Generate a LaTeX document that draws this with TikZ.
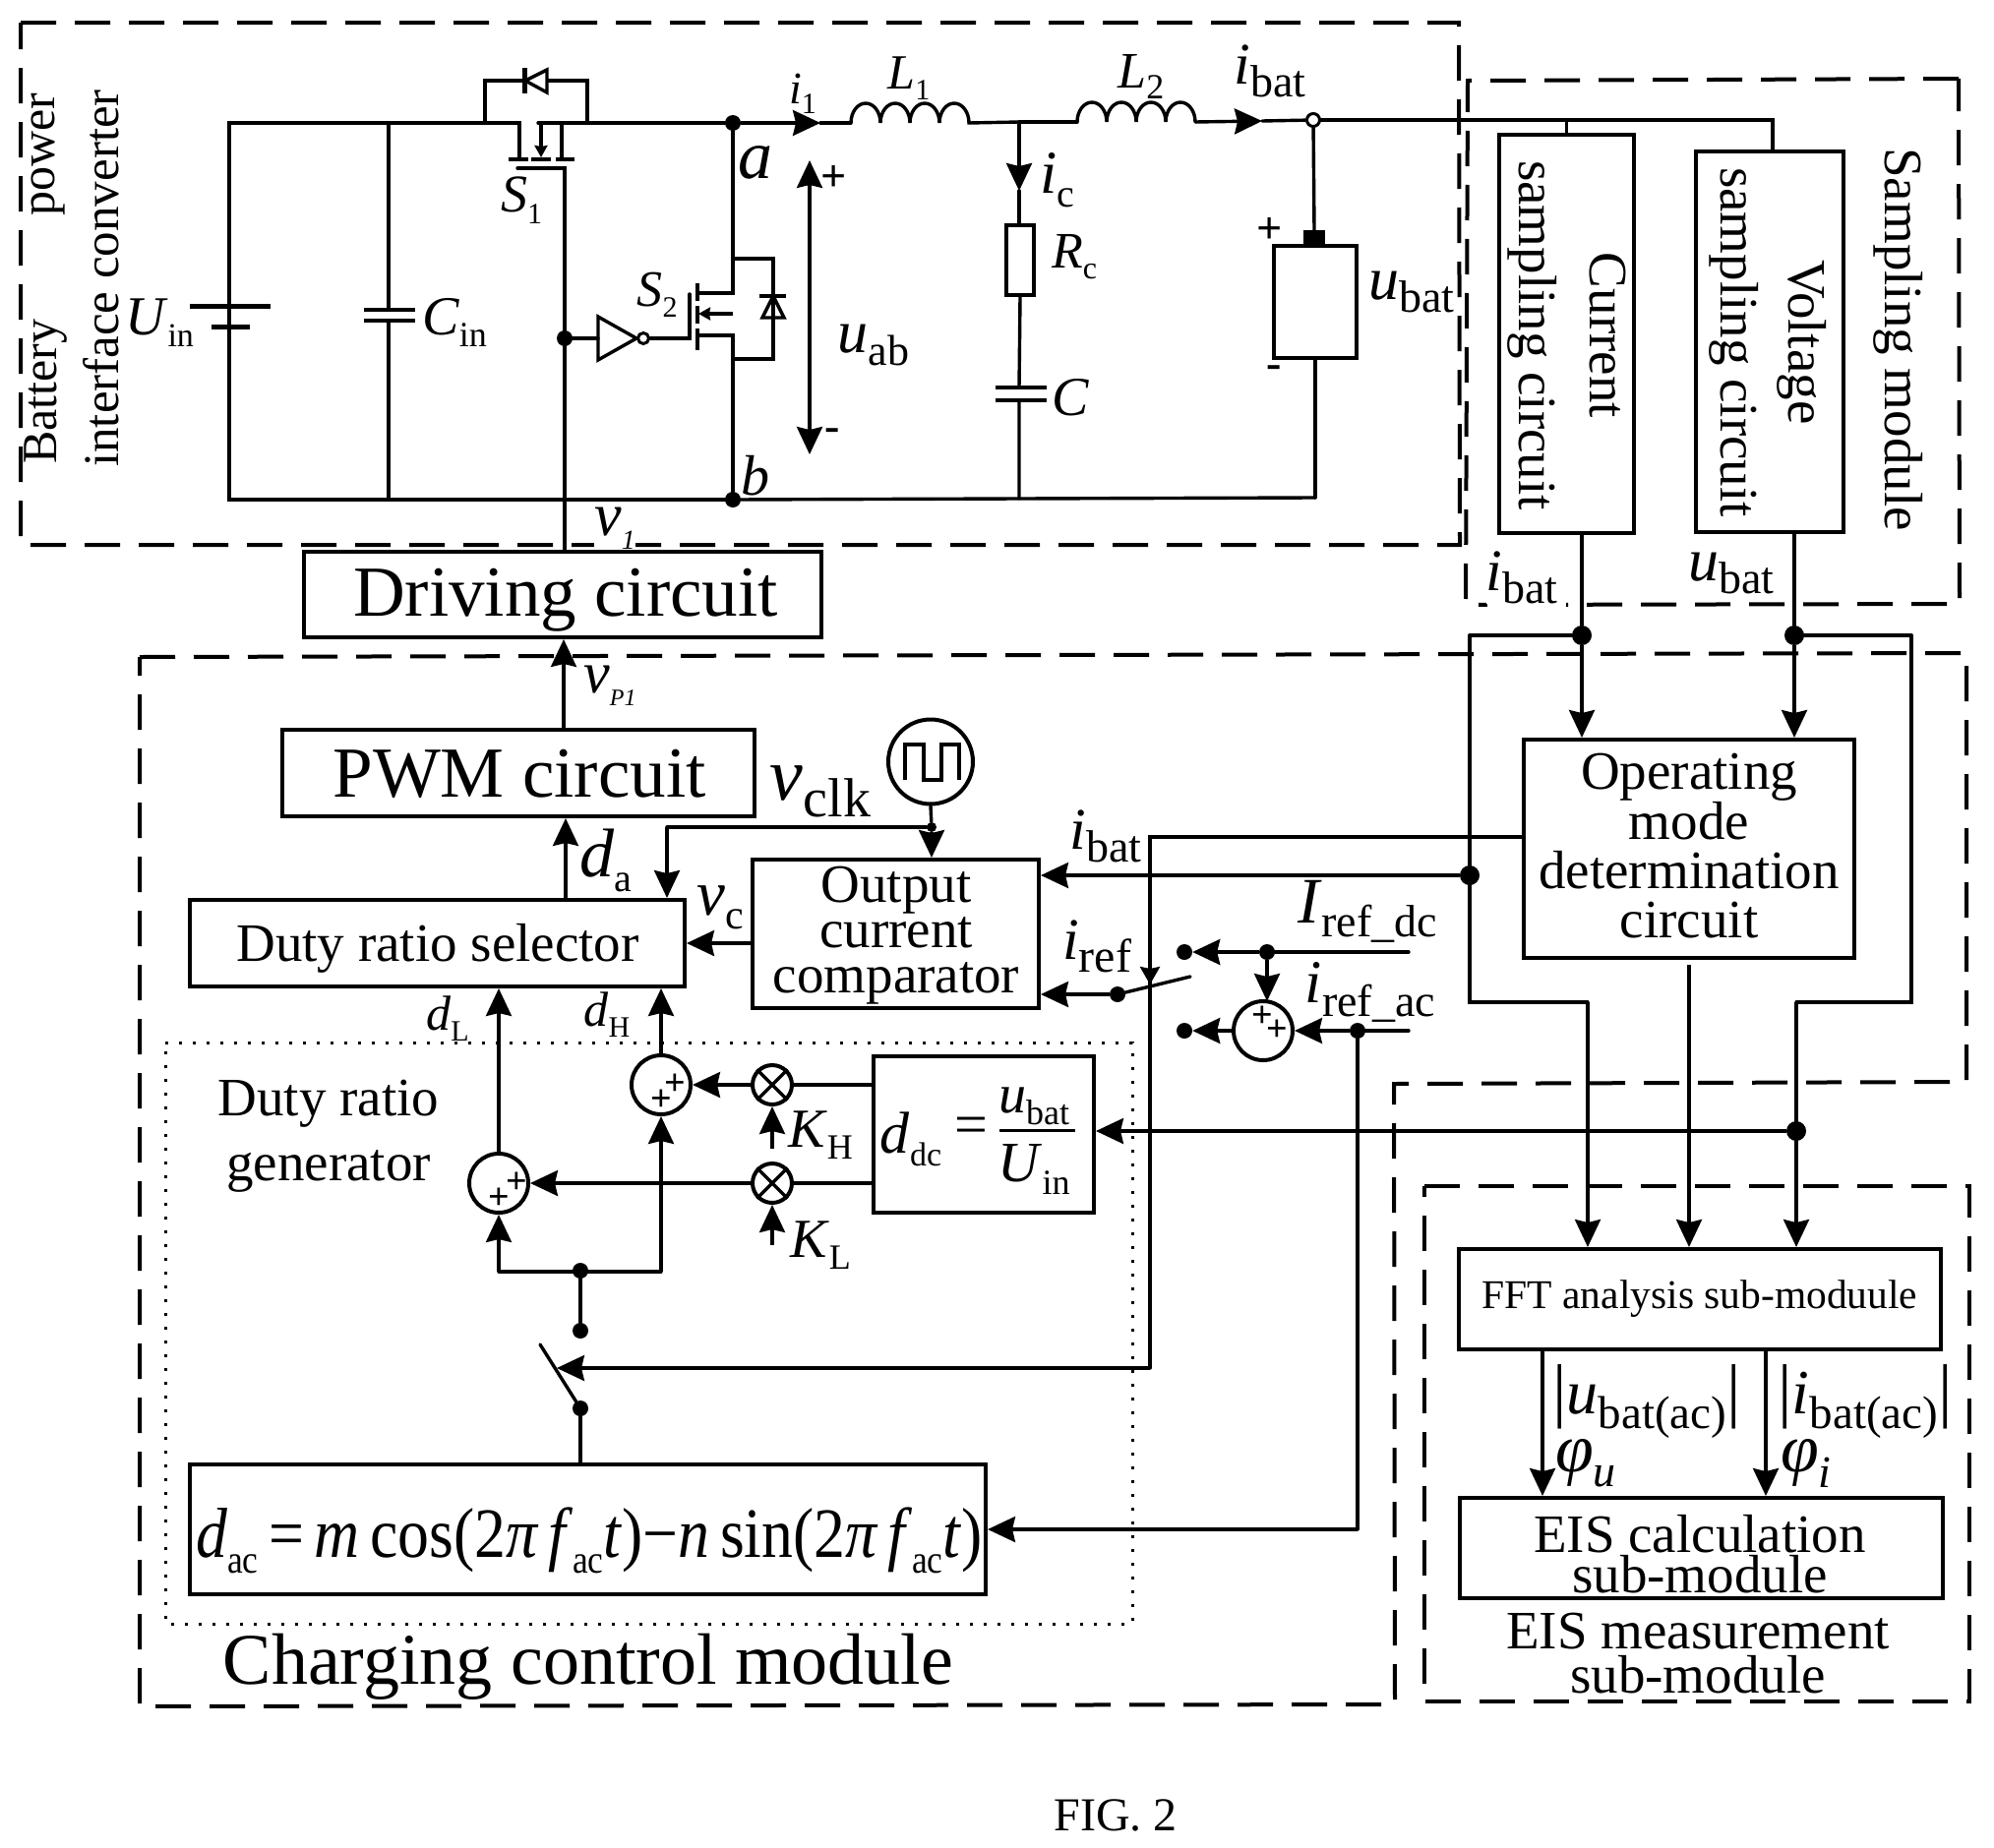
\documentclass[tikz,border=0pt]{standalone}
\usepackage{graphicx}
\usepackage{fontspec}
\setmainfont{Liberation Serif}
\usetikzlibrary{arrows.meta,shapes.geometric}
\newcommand\IS[4]{\fontsize{#1}{#1}\selectfont\textit{#3}\raisebox{-.22em}{\fontsize{#2}{#2}\selectfont #4}}
\newcommand\ISI[4]{\fontsize{#1}{#1}\selectfont\textit{#3}\raisebox{-.22em}{\fontsize{#2}{#2}\selectfont\textit{#4}}}
\newcommand\IT[2]{\fontsize{#1}{#1}\selectfont\textit{#2}}
\newcommand\coil{arc[start angle=180,end angle=0,x radius=15pt,y radius=20pt]}
\tikzset{
  wire/.style={line width=3.4pt,line cap=round,line join=miter},
  arr/.style={wire,line cap=butt,-{Stealth[length=28pt,width=26pt,inset=3pt]}},
  arrs/.style={wire,line cap=butt,{Stealth[length=28pt,width=26pt,inset=3pt]}-{Stealth[length=28pt,width=26pt,inset=3pt]}},
  tinyarr/.style={wire,line cap=butt,-{Stealth[length=12pt,width=13pt,inset=1pt]}},
  midarr/.style={wire,line cap=butt,-{Stealth[length=18pt,width=20pt,inset=2pt]}},
  modbox/.style={line width=4pt,dash pattern=on 36pt off 19pt},
  dotbox/.style={line width=3pt,dash pattern=on 3pt off 11pt},
  box/.style={draw,line width=4pt,inner sep=0pt,rectangle,align=center,minimum width=#1},
  dot/.style={circle,fill=black,draw=none,minimum size=16pt,inner sep=0pt},
  bigdot/.style={circle,fill=black,draw=none,minimum size=20pt,inner sep=0pt},
  summer/.style={circle,draw,line width=4pt,minimum size=60pt,inner sep=0pt},
  mult/.style={circle,draw,line width=4pt,minimum size=40pt,inner sep=0pt},
  lbl/.style={inner sep=0pt,anchor=center},
  tx/.style={inner sep=0pt,anchor=center,align=center,font=\fontsize{55}{#1}\selectfont},
  tx/.default=50,
  bigtx/.style={inner sep=0pt,anchor=center,font=\fontsize{73}{73}\selectfont},
  pl/.style={inner sep=0pt,anchor=center,font=\fontsize{38}{38}\selectfont\bfseries},
  sgn/.style={inner sep=0pt,anchor=center,font=\fontsize{46}{46}\selectfont\bfseries}
}
\begin{document}
\begin{tikzpicture}[x=1pt,y=-1pt]
\useasboundingbox (0,0) rectangle (2027,1879);
\fill[white] (0,0) rectangle (2027,1879);
% module frames
\draw[modbox] (21,23) -- (1483,23) -- (1484,554) -- (21,554) -- cycle;
\draw[modbox] (1991,80) -- (1492,82) -- (1490,615) -- (1992,614) -- cycle;
\fill[white] (1512,608) rectangle (1592,622);
\draw[modbox] (142,668) -- (1999,664) -- (1999,1100) -- (1417,1102) -- (1418,1733) -- (142,1735) -- cycle;
\draw[modbox] (1448,1206) -- (2002,1206) -- (2002,1730) -- (1448,1730) -- cycle;
\draw[dotbox] (168,1060) -- (1151,1060) -- (1151,1651) -- (168,1651) -- cycle;

% boxes
\node[box=526pt,minimum height=87pt] (drive) at (572,604.5) {};
\node[bigtx] (drivet) at (575,610) {Driving circuit};
\node[box=480pt,minimum height=88pt] (pwm) at (527,786) {};
\node[bigtx] (pwmt) at (528,787) {PWM circuit};
\node[box=503pt,minimum height=88pt] (sel) at (444.5,959) {};
\node[tx] (selt) at (445,964) {Duty ratio selector};
\node[box=291pt,minimum height=151pt] (comp) at (910.5,949.5) {};
\node[tx=46] (compt) at (911,951) {Output\\current\\comparator};
\node[box=224pt,minimum height=159pt] (ddc) at (1000,1153.5) {};
\node[box=809pt,minimum height=132pt] (fac) at (597.5,1555) {};
\node[box=336pt,minimum height=222pt] (mode) at (1717,863) {};
\node[tx] (modet) at (1717,860) {Operating\\mode\\determination\\circuit};
\node[box=137pt,minimum height=405pt] (cur) at (1592.5,339.5) {};
\node[tx=72,rotate=-90] (curt) at (1593,341) {Current\\sampling circuit};
\node[box=150pt,minimum height=387pt] (vol) at (1799,347.5) {};
\node[tx=69,rotate=-90] (volt) at (1797,348) {Voltage\\sampling circuit};
\node[box=490pt,minimum height=102pt] (fft) at (1728,1321) {};
\node[inner sep=0pt,anchor=center,font=\fontsize{41.5}{41.5}\selectfont] (fftt) at (1728,1321) {FFT analysis sub-moduule};
\node[box=491pt,minimum height=102pt] (eis) at (1729.5,1574) {};
\node[tx=41] (eist) at (1728,1580) {EIS calculation\\sub-module};
\node[tx=45] (eism) at (1726,1681) {EIS measurement\\sub-module};

% vertical and free texts
\node[lbl,rotate=90,font=\fontsize{50}{50}\selectfont] (t1) at (47,398) {Battery};
\node[lbl,rotate=90,font=\fontsize{50}{50}\selectfont] (t2) at (49,157) {power};
\node[lbl,rotate=90,font=\fontsize{51}{51}\selectfont] (t3) at (103,283) {interface converter};
\node[lbl,rotate=-90,font=\fontsize{55}{55}\selectfont] (t4) at (1930,345) {Sampling module};
\node[tx=66] (t5) at (334,1155) {Duty ratio\\generator};
\node[lbl,font=\fontsize{74}{74}\selectfont] (t6) at (598,1695) {Charging control module};
\node[lbl,font=\fontsize{48}{48}\selectfont] (t7) at (1134,1846) {FIG. 2};

% power stage: named points
\coordinate (TL) at (233,125);
\coordinate (BL) at (233,508);
\node[dot] (na) at (745,125) {};
\node[dot] (nb) at (745,508) {};
\coordinate (CT) at (395,125);
\coordinate (CB) at (395,508);
\coordinate (i1tip) at (834,125);
\coordinate (L1a) at (865,125);
\coordinate (L1b) at (986,125);
\coordinate (RT) at (1036,124);
\coordinate (RB) at (1036,507);
\coordinate (L2a) at (1095,124);
\coordinate (L2b) at (1215,124);
\coordinate (i2tip) at (1283,123);
\node[circle,draw,line width=3pt,minimum size=13pt,inner sep=0pt] (nbat) at (1335,122) {};
\coordinate (VT) at (1802,122);
\coordinate (BB) at (1337,506);

% input battery and capacitor
\draw[wire] (nb) -- (BL) -- (TL |- 0,311) (TL |- 0,332) -- (BL);
\draw[wire] (TL |- 0,311) -- (TL) -- (528,125) -- (528,161);
\draw[line width=5pt] (193,311) -- (275,311);
\draw[line width=5pt] (215,332) -- (254,332);
\draw[wire] (CT) -- (CT |- 0,315) (CT |- 0,326) -- (CB);
\draw[line width=4.5pt] (370,315) -- (422,315) (370,326) -- (422,326);
% S1
\draw[wire] (547,125) -- (na);
\draw[tinyarr] (550,125) -- (550,160);
\draw[wire] (571,125) -- (571,161);
\draw[line width=4pt] (517,162) -- (537,162) (540,162) -- (560,162) (565,162) -- (584,162);
\draw[wire] (526,171) -- (574,171) -- (574,561);
\draw[wire] (493,125) -- (493,82) -- (597,82) -- (597,125);
\draw[wire] (493,82) -- (533,82) (556,82) -- (597,82);
\draw[wire,fill=black!0] (556,71) -- (534,82) -- (556,94) -- cycle;
\draw[line width=5pt] (533,69) -- (533,95);
\node[lbl] (lS1) at (530,204) {\IS{54}{30}{S}{1}};
% inverter and S2
\node[dot] (ngate) at (574,344) {};
\draw[wire] (ngate) -- (608,344);
\draw[wire] (608,322) -- (647,344) -- (608,366) -- cycle;
\node[circle,draw,line width=3pt,minimum size=11pt,inner sep=0pt] (bub) at (654,344) {};
\draw[wire] (bub) -- (701,344) -- (701,299);
\draw[line width=3.6pt] (709,288) -- (709,306) (709,311) -- (709,329) (709,334) -- (709,356);
\draw[wire] (na) -- (745,298) -- (709,298);
\draw[tinyarr] (745,319) -- (710,319);
\draw[wire] (nb) -- (745,341) -- (709,341);
\draw[wire] (745,263) -- (786,263) -- (786,365) -- (745,365);
\draw[wire] (775,323) -- (786,301) -- (797,323) -- cycle;
\draw[line width=4.5pt] (772,301) -- (799,301);
\node[lbl] (lS2) at (668,300) {\IS{52}{30}{S}{2}};
% main rail
\draw[arr] (na) -- (i1tip);
\draw[wire] (i1tip) -- (L1a);
\draw[wire] (L1a) \coil \coil \coil \coil -- (RT);
\draw[wire] (RT) -- (L2a);
\draw[wire] (L2a) \coil \coil \coil \coil;
\draw[arr] (L2b) -- (i2tip);
\draw[wire] (i2tip) -- (nbat);
\draw[wire] (nbat) -- (VT) -- (vol.north -| VT);
\draw[wire] (cur.north) -- (cur.north |- VT);
\draw[wire] (nb) -- (RB) -- (BB);
% RC branch
\draw[arr] (RT) -- (1036,194);
\draw[wire] (1036,194) -- (1036,229);
\node[draw,line width=4pt,minimum width=28pt,minimum height=71pt,inner sep=0pt] (Rc) at (1037,264.5) {};
\draw[wire] (Rc.south) -- (1036,394) (1036,407) -- (RB);
\draw[line width=4.5pt] (1012,394) -- (1064,394) (1012,407) -- (1064,407);
% cell
\node[draw,line width=4pt,minimum width=84pt,minimum height=114pt,inner sep=0pt] (cell) at (1337,307) {};
\fill (1325,234) rectangle (1347,252);
\draw[wire] (nbat) -- (1336,234);
\draw[wire] (cell.south) -- (BB);
% uab
\coordinate (uabT) at (823,163);
\coordinate (uabB) at (823,462);
\draw[arrs] (uabT) -- (uabB);
% labels power stage
\node[lbl] (lUin) at (162,328) {\IS{56}{34}{U}{in}};
\node[lbl] (lCin) at (462,328) {\IS{56}{36}{C}{in}};
\node[lbl] (la) at (768,165) {\IT{70}{a}};
\node[lbl] (lb) at (768,484) {\IT{58}{b}};
\node[lbl] (li1) at (816,95) {\IS{46}{30}{i}{1}};
\node[lbl] (lL1) at (924,80) {\IS{50}{30}{L}{1}};
\node[lbl] (lL2) at (1160,78) {\IS{52}{36}{L}{2}};
\node[lbl] (lib) at (1291,72) {\IS{60}{46}{i}{bat}};
\node[lbl] (lic) at (1075,183) {\IS{62}{40}{i}{c}};
\node[lbl] (lRc) at (1092,261) {\IS{52}{32}{R}{c}};
\node[lbl] (lC) at (1088,404) {\IT{56}{C}};
\node[lbl] (lub) at (1435,297) {\IS{62}{46}{u}{bat}};
\node[lbl] (luab) at (888,351) {\IS{62}{44}{u}{ab}};
\node[sgn] (pa) at (848,182) {+};
\node[sgn] (ma) at (846,442) {-};
\node[sgn] (pb) at (1291,235) {+};
\node[sgn] (mb) at (1295,378) {-};
\node[lbl,fill=white] (lv1) at (625,537) {\ISI{62}{28}{v}{1}};
\node[lbl,fill=white] (lib2) at (1547,587) {\IS{60}{46}{i}{bat}};
\node[lbl,fill=white] (lub2) at (1760,583) {\IS{62}{46}{u}{bat}};

% sampling outputs
\node[bigdot] (ni) at (1608,646) {};
\node[bigdot] (nu) at (1824,646) {};
\draw[wire] (1608,542) -- (ni);
\draw[wire] (1824,541) -- (nu);
\coordinate (WL) at (1494,646);
\coordinate (WR) at (1943,646);
\draw[wire] (ni) -- (WL);
\draw[wire] (nu) -- (WR);
\draw[arr] (ni) -- (ni |- mode.north);
\draw[arr] (nu) -- (nu |- mode.north);
\coordinate (W1) at (1614,1019);
\coordinate (W2) at (1826,1019);
\draw[wire] (WL) -- (1494,1019) -- (W1);
\draw[arr] (W1) -- (W1 |- fft.north);
\draw[wire] (WR) -- (1943,1019) -- (W2);
\draw[arr] (W2) -- (W2 |- fft.north);
\coordinate (Mb) at (1717,981);
\draw[arr] (Mb) -- (Mb |- fft.north);
\node[bigdot] (nib) at (1494,890) {};
\node[bigdot] (nub) at (1826,1150) {};
\draw[arr] (nib) -- (comp.east |- nib);
\draw[arr] (nub) -- (ddc.east |- nub);
% mode line and switches
\coordinate (mL) at (1169,851);
\coordinate (swA) at (566,1391);
\draw[wire] (mode.west |- mL) -- (mL) -- (1169,1391);
\draw[arr] (1169,1391) -- (swA);
\draw[midarr] (1169,975) -- (1169,1001);
\node[dot] (s0) at (1136,1011) {};
\coordinate (s1) at (1210,993);
\draw[wire] (s0) -- (s1);
\draw[arr] (s0) -- (comp.east |- s0);
\node[dot] (sdc) at (1204,968) {};
\node[dot] (sac) at (1204,1048) {};
\node[dot] (jdc) at (1288,968) {};
\node[dot] (jac) at (1380,1048) {};
\node[summer] (sumR) at (1284,1048) {};
\coordinate (idc) at (1432,968);
\coordinate (iac) at (1432,1048);
\draw[wire] (idc) -- (jdc);
\draw[arr] (jdc) -- (sdc);
\draw[arr] (jdc) -- (1288,1018);
\draw[arr] (sumR) -- (sac);
\draw[wire] (iac) -- (jac);
\draw[arr] (jac) -- (sumR);
\draw[wire] (jac) -- (1380,1555);
\draw[arr] (1380,1555) -- (fac.east |- 0,1555);
\node[pl] (p1) at (1283,1034) {+};
\node[pl] (p2) at (1298,1048) {+};
\node[lbl] (lir) at (1115,962) {\IS{60}{48}{i}{ref}};
\node[lbl] (lib3) at (1124,850) {\IS{60}{46}{i}{bat}};
\node[lbl] (lIdc) at (1390,927) {\IS{66}{46}{I}{ref\_dc}};
\node[lbl] (liac) at (1393,1009) {\IS{62}{46}{i}{ref\_ac}};

% control chain
\draw[arr] (pwm.north -| 573,0) -- (drive.south -| 573,0);
\node[lbl] (lvp) at (620,697) {\ISI{60}{24}{v}{P1}};
\draw[arr] (sel.north -| 575,0) -- (pwm.south -| 575,0);
\node[lbl] (lda) at (616,875) {\IS{70}{40}{d}{a}};
\node[circle,draw,line width=4pt,minimum size=86pt,inner sep=0pt] (clk) at (946,774.5) {};
\draw[line width=4pt] (920,793) -- (920,757) -- (939,757) -- (939,793) -- (957,793) -- (957,757) -- (975,757) -- (975,793);
\node[dot,minimum size=10pt] (nclk) at (947,841) {};
\draw[wire] (clk.south) -- (nclk);
\draw[arr] (nclk) -- (nclk |- comp.north);
\draw[wire] (nclk) -- (678,841);
\draw[arr] (678,841) -- (sel.north -| 678,0);
\node[lbl] (lvclk) at (834,805) {\IS{76}{56}{v}{clk}};
\draw[arr] (comp.west |- sel) -- (sel.east);
\node[lbl] (lvc) at (732,923) {\IS{65}{42}{v}{c}};

% duty ratio generator
\node[summer] (sH) at (672,1103) {};
\node[summer] (sL) at (507,1203) {};
\node[mult] (mH) at (785,1103) {};
\node[mult] (mL2) at (785,1203) {};
\draw[line width=3.4pt] (mH.north west) -- (mH.south east) (mH.north east) -- (mH.south west);
\draw[line width=3.4pt] (mL2.north west) -- (mL2.south east) (mL2.north east) -- (mL2.south west);
\draw[arr] (sH.north) -- (sel.south -| sH);
\draw[arr] (sL.north) -- (sel.south -| sL);
\draw[wire] (ddc.west |- mH) -- (mH);
\draw[wire] (ddc.west |- mL2) -- (mL2);
\draw[arr] (mH) -- (sH);
\draw[arr] (mL2) -- (sL);
\coordinate (kH) at (785,1168);
\coordinate (kL) at (785,1266);
\draw[arr] (kH) -- (mH);
\draw[arr] (kL) -- (mL2);
\node[pl] (p3) at (686,1103) {+};
\node[pl] (p4) at (672,1119) {+};
\node[pl] (p5) at (525,1203) {+};
\node[pl] (p6) at (507,1219) {+};
\coordinate (busL) at (507,1293);
\coordinate (busR) at (672,1293);
\draw[wire] (busR) -- (busL);
\draw[arr] (busL) -- (sL);
\draw[arr] (busR) -- (sH);
\node[dot] (nbus) at (590,1292) {};
\node[dot] (nsw1) at (590,1353) {};
\node[dot] (nsw2) at (590,1432) {};
\draw[wire] (nbus) -- (nsw1);
\draw[wire] (nsw2) -- (nsw2 |- fac.north);
\draw[wire] (nsw2) -- (549,1367);
\node[lbl] (ldL) at (455,1036) {\IS{50}{30}{d}{L}};
\node[lbl] (ldH) at (617,1032) {\IS{50}{30}{d}{H}};
\node[lbl] (lKH) at (834,1154) {\IS{56}{36}{K}{H}};
\node[lbl] (lKL) at (834,1266) {\IS{56}{36}{K}{L}};
% ddc formula
\node[lbl] (f1) at (926,1158) {\IS{60}{34}{d}{dc}};
\node[lbl,font=\fontsize{60}{60}\selectfont] (f2) at (987,1150) {=};
\node[lbl] (f3) at (1051,1125) {\IS{56}{36}{u}{bat}};
\node[lbl] (f4) at (1051,1189) {\IS{58}{36}{U}{in}};
\draw[line width=3pt] (1016,1149) -- (1093,1149);
% ac formula
\node[lbl] (f5) at (599,1566) {\scalebox{0.885}[1]{\fontsize{72}{72}\selectfont\IS{72}{40}{d}{ac}\fontsize{72}{72}\selectfont\,=\,\textit{m}\,cos(2\textit{π\,f}\raisebox{-.22em}{\fontsize{40}{40}\selectfont ac}\textit{t})−\textit{n}\,sin(2\textit{π\,f}\raisebox{-.22em}{\fontsize{40}{40}\selectfont ac}\textit{t})}};

% FFT to EIS
\draw[arr] (fft.south -| 1568,0) -- (eis.north -| 1568,0);
\draw[arr] (fft.south -| 1795,0) -- (eis.north -| 1795,0);
\node[lbl] (lmu) at (1674,1425) {\fontsize{72}{72}\selectfont|\IS{64}{47}{u}{bat(ac)}\fontsize{72}{72}\selectfont|};
\node[lbl] (lmi) at (1896,1425) {\fontsize{72}{72}\selectfont|\IS{64}{47}{i}{bat(ac)}\fontsize{72}{72}\selectfont|};
\node[lbl] (lpu) at (1612,1488) {\ISI{70}{46}{φ}{u}};
\node[lbl] (lpi) at (1836,1488) {\ISI{70}{46}{φ}{i}};
\end{tikzpicture}
\end{document}
